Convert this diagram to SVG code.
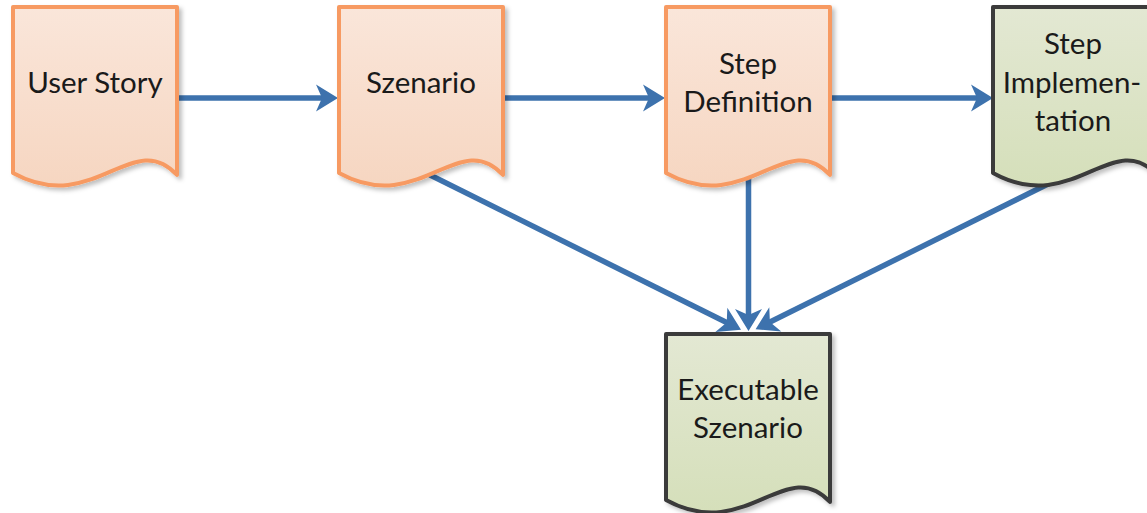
<svg xmlns="http://www.w3.org/2000/svg" width="1147" height="513" viewBox="0 0 1147 513">
  <defs>
    <linearGradient id="gOrange" x1="0" y1="0" x2="0" y2="1">
      <stop offset="0" stop-color="#fae6da"/>
      <stop offset="1" stop-color="#f6d6c1"/>
    </linearGradient>
    <linearGradient id="gGreen" x1="0" y1="0" x2="0" y2="1">
      <stop offset="0" stop-color="#e3e8d3"/>
      <stop offset="1" stop-color="#d5dfba"/>
    </linearGradient>
    <filter id="shadow" x="-10%" y="-10%" width="130%" height="130%">
      <feDropShadow dx="3" dy="3" stdDeviation="2" flood-color="#000" flood-opacity="0.25"/>
    </filter>
    <marker id="arrow" viewBox="-23 -14 24 28" refX="-15" refY="0" markerWidth="24" markerHeight="28" markerUnits="userSpaceOnUse" orient="auto">
      <path d="M0,0 L-22,-13.5 L-16,0 L-22,13.5 Z" fill="#3d72ad"/>
    </marker>
    <!-- document shape, 165 wide, sides 167 high, wavy bottom -->
    <path id="doc" d="M0,0 H164 V168 C120,120 80,210 0,166 Z"/>
  </defs>
  <style>
    .orange { fill: url(#gOrange); stroke: #f79a62; stroke-width: 4; stroke-linejoin: round; filter: url(#shadow); }
    .green { fill: url(#gGreen); stroke: #3b3b3b; stroke-width: 4; stroke-linejoin: round; filter: url(#shadow); }
    .label { font-family: Lato, "Liberation Sans", sans-serif; font-size: 29.5px; fill: #1a1a1a; text-anchor: middle; }
    .conn { fill: none; stroke: #3d72ad; stroke-width: 5.5; marker-end: url(#arrow); }
  </style>

  <g id="connectors">
    <line class="conn" x1="177" y1="98" x2="323" y2="98"/>
    <line class="conn" x1="503" y1="98" x2="650" y2="98"/>
    <line class="conn" x1="831" y1="98" x2="978" y2="98"/>
    <line class="conn" x1="420" y1="170" x2="727.6" y2="323"/>
    <line class="conn" x1="748.5" y1="170" x2="748.5" y2="316"/>
    <line class="conn" x1="1050" y1="183" x2="769" y2="322.5"/>
  </g>

  <g id="user-story">
    <use href="#doc" class="orange" transform="translate(13,7)"/>
    <text class="label" x="95" y="93">User Story</text>
  </g>

  <g id="szenario">
    <use href="#doc" class="orange" transform="translate(339,7)"/>
    <text class="label" x="421" y="93">Szenario</text>
  </g>

  <g id="step-definition">
    <use href="#doc" class="orange" transform="translate(666,7)"/>
    <text class="label" x="748" y="74">Step</text>
    <text class="label" x="748" y="112">Definition</text>
  </g>

  <g id="step-implementation">
    <use href="#doc" class="green" transform="translate(993,7)"/>
    <text class="label" x="1073" y="54">Step</text>
    <text class="label" x="1072" y="93">Implemen-</text>
    <text class="label" x="1073" y="131">tation</text>
  </g>

  <g id="executable-szenario">
    <use href="#doc" class="green" transform="translate(666,334)"/>
    <text class="label" x="748" y="400">Executable</text>
    <text class="label" x="748" y="438">Szenario</text>
  </g>
</svg>
